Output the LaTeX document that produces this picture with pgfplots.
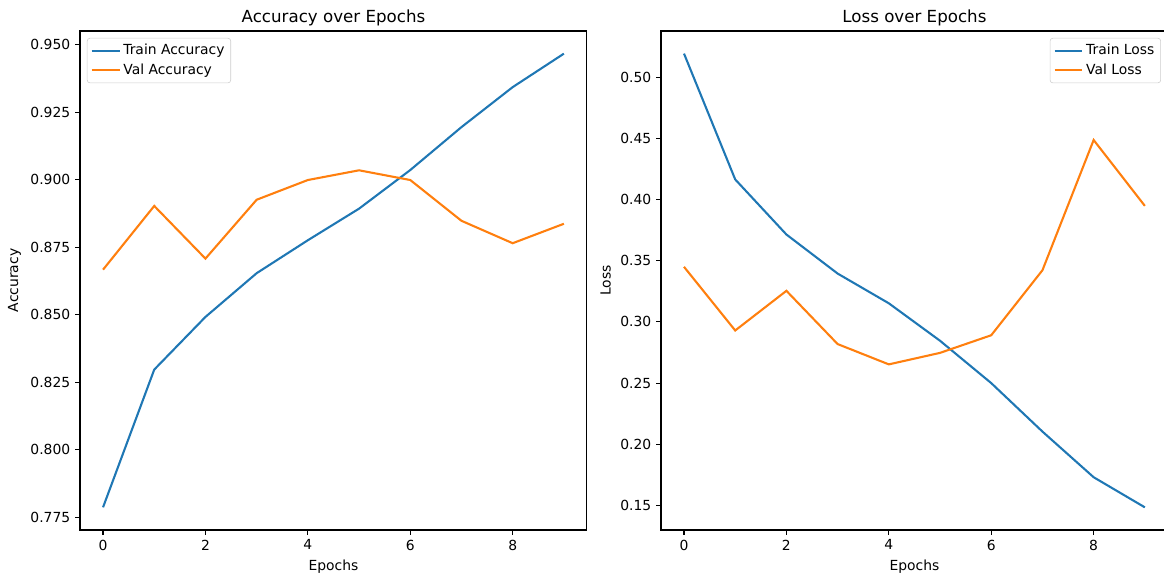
\documentclass[border=0pt]{standalone}
\usepackage{fontspec}
\setmainfont{DejaVu Sans}
\usepackage{pgfplots}
\usepackage{pgfplotstable}
\pgfplotsset{compat=1.18}
\definecolor{tabblue}{HTML}{1F77B4}
\definecolor{taborange}{HTML}{FF7F0E}

\pgfplotstableread{
epoch trainacc valacc trainloss valloss
0 0.7787 0.8667 0.5192 0.3450
1 0.8297 0.8903 0.4164 0.2930
2 0.8492 0.8708 0.3714 0.3254
3 0.8654 0.8926 0.3395 0.2819
4 0.8776 0.8999 0.3152 0.2653
5 0.8893 0.9035 0.2846 0.2747
6 0.9036 0.8999 0.2500 0.2891
7 0.9195 0.8848 0.2104 0.3422
8 0.9343 0.8765 0.1731 0.4486
9 0.9467 0.8837 0.1485 0.3948
}\hist

\pgfplotsset{
 mpl/.style={
  scale only axis, width=365pt, height=359.3pt,
  xmin=-0.45, xmax=9.45, xtick={0,2,4,6,8},
  tick align=outside, tick pos=left, major tick length=3.5pt,
  every tick/.style={black, line width=0.8pt},
  axis line style={line width=0.8pt},
  /pgf/number format/assume math mode=true,
  tick label style={font=\fontsize{10}{12}\selectfont},
  label style={font=\fontsize{10}{12}\selectfont},
  title style={font=\fontsize{12}{14}\selectfont, yshift=-5.8pt},
  legend style={font=\fontsize{10}{12}\selectfont, draw=black!20, rounded corners=2pt,
    fill=white, fill opacity=0.8, text opacity=1, inner sep=2.5pt, row sep=1pt},
  legend cell align=left,
  legend image code/.code={\draw[##1] (0pt,0pt) -- (20pt,0pt);},
  xlabel={Epochs},
  scaled y ticks=false,
  every axis plot/.append style={line width=1.5pt, mark=none},
 }
}

\begin{document}
\begin{tikzpicture}
\path[use as bounding box, clip] (0,0) rectangle (838.1pt,414.7pt);
\begin{axis}[mpl, at={(57.6pt,33.1pt)}, anchor=south west,
  title={Accuracy over Epochs}, ylabel={Accuracy},
  ymin=0.7703, ymax=0.9551, ytick={0.775,0.8,0.825,0.85,0.875,0.9,0.925,0.95},
  yticklabel style={/pgf/number format/.cd, fixed, fixed zerofill, precision=3},
  legend style={at={(0,1)}, anchor=north west, xshift=5pt, yshift=-5pt}]
\addplot[tabblue] table[x=epoch, y=trainacc] {\hist};
\addlegendentry{Train Accuracy}
\addplot[taborange] table[x=epoch, y=valacc] {\hist};
\addlegendentry{Val Accuracy}
\end{axis}
\begin{axis}[mpl, at={(475.9pt,33.1pt)}, anchor=south west,
  title={Loss over Epochs}, ylabel={Loss},
  ymin=0.1300, ymax=0.5377, ytick={0.15,0.2,0.25,0.3,0.35,0.4,0.45,0.5},
  yticklabel style={/pgf/number format/.cd, fixed, fixed zerofill, precision=2},
  legend style={at={(1,1)}, anchor=north east, xshift=-5pt, yshift=-5pt}]
\addplot[tabblue] table[x=epoch, y=trainloss] {\hist};
\addlegendentry{Train Loss}
\addplot[taborange] table[x=epoch, y=valloss] {\hist};
\addlegendentry{Val Loss}
\end{axis}
\end{tikzpicture}
\end{document}
